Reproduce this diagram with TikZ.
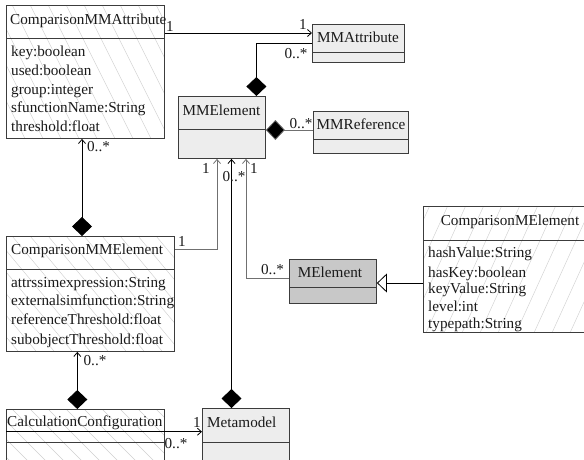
\documentclass[tikz,border=0pt]{standalone}
\usepackage{fontspec}
\setmainfont{Liberation Serif}
\usetikzlibrary{arrows.meta,calc}
\definecolor{boxline}{HTML}{3C3C3C}
\definecolor{hatchgray}{HTML}{D0D0D0}
\definecolor{mmfill}{HTML}{EDEDED}
\definecolor{melfill}{HTML}{C8C8C8}
\definecolor{txt}{HTML}{1A1A1A}
\definecolor{softline}{HTML}{707070}

\begin{document}
\begin{tikzpicture}[x=1pt,y=-1pt,
  font=\fontsize{15.2}{18}\selectfont,
  classbox/.style={draw=boxline, line width=0.9pt, inner sep=0pt, anchor=north west},
  hatched/.style 2 args={path picture={
      \foreach \k in {-300,-282,...,420}
        \draw[hatchgray, line width=0.45pt]
          ($(path picture bounding box.north west)+(\k,0)$) -- ++(#1,#2);}},
  sep/.style={draw=boxline, line width=0.9pt},
  cname/.style={inner sep=0pt, text=txt, text height=10.5pt, text depth=3pt},
  mult/.style={inner sep=0pt, text=txt},
  assoc/.style={draw=black, line width=0.8pt, -{Straight Barb[length=4pt,width=7pt]}},
  comp/.style={draw=black, line width=0.8pt,
    {Diamond[length=19pt,width=20pt,fill=black]}-{Straight Barb[length=4pt,width=7pt]}},
  compend/.style={draw=black, line width=0.8pt, {Diamond[length=19pt,width=20pt,fill=black]}-},
  inh/.style={draw=black, line width=0.8pt, -{Triangle[open,length=10pt,width=19pt,fill=white]}},
]
\useasboundingbox (0,0) rectangle (584,460);
\clip (0,0) rectangle (584,460);

% ---------- class boxes ----------
\node[classbox, fill=white, hatched={100}{200}, minimum width=158pt, minimum height=133pt] (cmma) at (6,5) {};
\draw[sep] ($(cmma.north west)+(0,33)$) -- ($(cmma.north east)+(0,33)$);

\node[classbox, fill=mmfill, minimum width=92pt, minimum height=38pt] (mma) at (312,24) {};
\draw[sep] ($(mma.north west)+(0,28)$) -- ($(mma.north east)+(0,28)$);

\node[classbox, fill=mmfill, minimum width=87pt, minimum height=62pt] (mme) at (178,96) {};
\draw[sep] ($(mme.north west)+(0,33)$) -- ($(mme.north east)+(0,33)$);

\node[classbox, fill=mmfill, minimum width=95pt, minimum height=42pt] (mmr) at (313,111) {};
\draw[sep] ($(mmr.north west)+(0,28)$) -- ($(mmr.north east)+(0,28)$);

\node[classbox, fill=white, hatched={100}{120}, minimum width=168pt, minimum height=115pt] (cmme) at (6,236) {};
\draw[sep] ($(cmme.north west)+(0,33)$) -- ($(cmme.north east)+(0,33)$);

\node[classbox, fill=melfill, minimum width=87pt, minimum height=44pt] (mel) at (289,259) {};
\draw[sep] ($(mel.north west)+(0,28)$) -- ($(mel.north east)+(0,28)$);

\node[classbox, fill=white, hatched={-100}{220}, minimum width=180pt, minimum height=126pt] (cme) at (423,206) {};
\draw[sep] ($(cme.north west)+(0,34)$) -- ($(cme.north east)+(0,34)$);

\node[classbox, fill=white, hatched={100}{100}, minimum width=158pt, minimum height=80pt] (cc) at (6,409) {};
\draw[sep] ($(cc.north west)+(0,33)$) -- ($(cc.north east)+(0,33)$);

\node[classbox, fill=mmfill, minimum width=87pt, minimum height=80pt] (mm) at (202,408) {};
\draw[sep] ($(mm.north west)+(0,34)$) -- ($(mm.north east)+(0,34)$);

% ---------- class names ----------
\node[cname, anchor=west] (cmma-t) at (10,20.7) {ComparisonMMAttribute};
\node[cname] (mma-t) at (358,39) {MMAttribute};
\node[cname] (mme-t) at (221.5,111.7) {MMElement};
\node[cname] (mmr-t) at (361,126) {MMReference};
\node[cname, anchor=west] (cmme-t) at (11,250.7) {ComparisonMMElement};
\node[cname] (mel-t) at (330,274) {MElement};
\node[cname] (cme-t) at (510,222) {ComparisonMElement};
\node[cname, anchor=west] (cc-t) at (7,422.7) {CalculationConfiguration};
\node[cname, anchor=west] (mm-t) at (207,423.3) {Metamodel};

% ---------- attributes ----------
\foreach \t/\yy [count=\i] in {key:boolean/53, used:boolean/71.7, group:integer/90.4,
    sfunctionName:String/109.1, threshold:float/127.8}
  \node[cname, anchor=west] (cmma-a\i) at (11,\yy) {\t};
\foreach \t/\yy [count=\i] in {attrssimexpression:String/283.3, externalsimfunction:String/302,
    referenceThreshold:float/321, subobjectThreshold:float/340.7}
  \node[cname, anchor=west] (cmme-a\i) at (11,\yy) {\t};
\foreach \t/\yy [count=\i] in {hashValue:String/253.3, hasKey:boolean/273.3,
    keyValue:String/289.3, level:int/307.7, typepath:String/325}
  \node[cname, anchor=west] (cme-a\i) at (428,\yy) {\t};

% ---------- connectors ----------
\coordinate (c1) at ($(cmma.north east)+(0,28)$);
\draw[assoc] (c1) -- (c1 -| mma.west);

\draw[compend] ($(mme.north east)+(-9.5,0)$) |- (mma.west);

\coordinate (c3) at ($(mme.north east)+(0,34)$);
\draw[compend, draw=softline] (c3) -- (c3 -| mmr.west);

\coordinate (c4) at ($(cmme.north east)+(0,13)$);
\draw[assoc, draw=softline] (c4) -| ($(mme.south west)+(39,0)$);

\coordinate (c5) at ($(mel.north west)+(0,19)$);
\draw[assoc, draw=softline] (c5) -| ($(mme.south west)+(68,0)$);

\coordinate (c6) at ($(mm.north west)+(29.5,0)$);
\draw[comp] (c6) -- (c6 |- mme.south);

\coordinate (c7) at ($(cmme.north west)+(76,0)$);
\draw[comp] (c7) -- (c7 |- cmma.south);

\coordinate (c8) at ($(cc.north west)+(71.3,0)$);
\draw[comp] (c8) -- (c8 |- cmme.south);

\coordinate (c9) at ($(cc.north west)+(0,22.7)$);
\draw[assoc] (c9) -- (c9 -| mm.west);

\coordinate (c10) at ($(cme.north west)+(0,77)$);
\draw[inh] (c10) -- (c10 -| mel.east);

% ---------- multiplicities ----------
\node[mult] (m1) at (170,26) {1};
\node[mult] (m2) at (303,24) {1};
\node[mult] (m3) at (296,54) {0..*};
\node[mult] (m4) at (301,124) {0..*};
\node[mult] (m5) at (206,168) {1};
\node[mult] (m6) at (234,177) {0..*};
\node[mult] (m7) at (254,168) {1};
\node[mult] (m8) at (182,241) {1};
\node[mult] (m9) at (272.5,269.3) {0..*};
\node[mult] (m10) at (98.5,146.7) {0..*};
\node[mult] (m11) at (95,360.7) {0..*};
\node[mult] (m12) at (197,422) {1};
\node[mult] (m13) at (176,443.3) {0..*};
\end{tikzpicture}
\end{document}
